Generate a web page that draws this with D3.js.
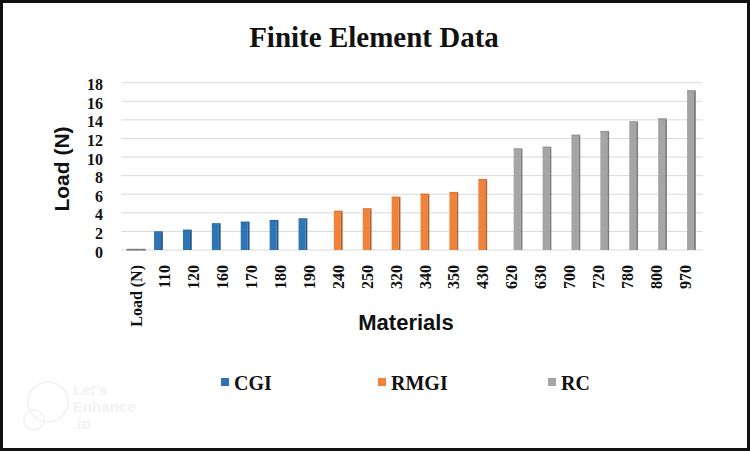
<!DOCTYPE html>
<html>
<head>
<meta charset="utf-8">
<script src="https://cdn.jsdelivr.net/npm/d3@7"></script>
<style>
  html, body { margin: 0; padding: 0; background: #ffffff; }
  svg { display: block; }
</style>
</head>
<body>
<script>
// ---- data ----
const categories = ["Load (N)", "110", "120", "160", "170", "180", "190",
  "240", "250", "320", "340", "350", "430",
  "620", "630", "700", "720", "780", "800", "970"];
const seriesNames = ["CGI", "RMGI", "RC"];
const cgiValues  = [0, 1.90, 2.08, 2.77, 2.94, 3.12, 3.30, null, null, null, null, null, null, null, null, null, null, null, null, null];
const rmgiValues = [0, null, null, null, null, null, null, 4.12, 4.38, 5.63, 5.95, 6.13, 7.53, null, null, null, null, null, null, null];
const rcValues   = [0, null, null, null, null, null, null, null, null, null, null, null, null, 10.83, 11.01, 12.30, 12.70, 13.74, 14.06, 17.08];
const yTicks = [0, 2, 4, 6, 8, 10, 12, 14, 16, 18];
const seriesColors = ["#2E75B6", "#F0823A", "#A5A5A5"];
const titleText = "Finite Element Data";
const xTitle = "Materials";
const yTitle = "Load (N)";

const W = 750, H = 451;
const svg = d3.select("body").append("svg").attr("width", W).attr("height", H);

svg.append("rect").attr("x", 1.5).attr("y", 1.5).attr("width", W - 3).attr("height", H - 3)
  .attr("fill", "#ffffff").attr("stroke", "#111").attr("stroke-width", 3);

// faint watermark
const wm = svg.append("g").attr("fill", "none").attr("stroke", "#f4f4f4").attr("stroke-width", 2);
wm.append("circle").attr("cx", 48).attr("cy", 402).attr("r", 20);
wm.append("circle").attr("cx", 34).attr("cy", 420).attr("r", 10);
const wmt = svg.append("g").attr("fill", "#f2f2f2").attr("font-family", "Liberation Sans, Arial, sans-serif")
  .attr("font-weight", "bold").attr("font-size", 15);
wmt.append("text").attr("x", 73).attr("y", 395).text("Let's");
wmt.append("text").attr("x", 73).attr("y", 412).text("Enhance");
wmt.append("text").attr("x", 73).attr("y", 429).text(".io");

// scales
const x = d3.scaleBand().domain(categories).range([121.5, 699.5]).padding(0);
const xs = d3.scaleBand().domain(seriesNames).range([x.bandwidth() / 2 - 9.6, x.bandwidth() / 2 + 9.6]);
const y = d3.scaleLinear().domain([0, 18]).range([250, 82.7]);

// gridlines
svg.append("g").selectAll("line").data(yTicks).join("line")
  .attr("x1", 121.5).attr("x2", 702.5)
  .attr("y1", d => y(d)).attr("y2", d => y(d))
  .attr("stroke", "#d9d9d9").attr("stroke-width", 1);

// y tick labels
svg.append("g").selectAll("text").data(yTicks).join("text")
  .attr("x", 103).attr("y", d => y(d) + 2).attr("dy", "0.35em")
  .attr("text-anchor", "end")
  .attr("font-family", "Liberation Serif, Times New Roman, serif")
  .attr("font-weight", "bold").attr("font-size", 16).attr("fill", "#111")
  .text(d => d);

// bars
const allSeries = [cgiValues, rmgiValues, rcValues];
const barW = 7, sideW = 1.8, topH = 1.6;
function shade(c, k) { return d3.color(c).darker(k).formatHex(); }
allSeries.forEach((vals, si) => {
  const name = seriesNames[si];
  const col = seriesColors[si];
  const g = svg.append("g");
  vals.forEach((v, i) => {
    if (v === null) return;
    const cx = x(categories[i]) + xs(name) + xs.bandwidth() / 2;
    const x0 = cx - (barW + sideW) / 2;
    const yt = y(v);
    const yb = y(0);
    if (v > 0) {
      g.append("rect").attr("x", x0).attr("y", yt).attr("width", barW).attr("height", yb - yt).attr("fill", col);
      g.append("rect").attr("x", x0 + barW).attr("y", yt).attr("width", sideW).attr("height", yb - yt).attr("fill", shade(col, 0.8));
      g.append("rect").attr("x", x0).attr("y", yt - topH + 0.5).attr("width", barW + sideW).attr("height", topH).attr("fill", shade(col, 0.25));
    } else {
      g.append("rect").attr("x", cx - 3).attr("y", yb - 1.2).attr("width", 6.4).attr("height", 1.8).attr("fill", "#7a7a7a");
    }
  });
});

// x tick labels
svg.append("g").selectAll("text").data(categories).join("text")
  .attr("transform", d => `translate(${x(d) + x.bandwidth() / 2},265) rotate(-90)`)
  .attr("dy", "0.35em")
  .attr("text-anchor", "end")
  .attr("font-family", "Liberation Serif, Times New Roman, serif")
  .attr("font-weight", "bold").attr("font-size", 16).attr("fill", "#111")
  .text(d => d);

// title
svg.append("text").attr("x", 374).attr("y", 47).attr("text-anchor", "middle")
  .attr("font-family", "Liberation Serif, Times New Roman, serif")
  .attr("font-weight", "bold").attr("font-size", 29).attr("fill", "#111")
  .text(titleText);

// axis titles
svg.append("text").attr("x", 406).attr("y", 330).attr("text-anchor", "middle")
  .attr("font-family", "Liberation Sans, Arial, sans-serif")
  .attr("font-weight", "bold").attr("font-size", 22).attr("fill", "#111")
  .text(xTitle);
svg.append("text").attr("transform", "translate(69,169) rotate(-90)").attr("text-anchor", "middle")
  .attr("font-family", "Liberation Sans, Arial, sans-serif")
  .attr("font-weight", "bold").attr("font-size", 21).attr("fill", "#111")
  .text(yTitle);

// legend
const legendX = [221, 378, 548];
const lg = svg.append("g");
seriesNames.forEach((n, i) => {
  lg.append("rect").attr("x", legendX[i]).attr("y", 378).attr("width", 8).attr("height", 8).attr("fill", seriesColors[i]);
  lg.append("text").attr("x", legendX[i] + 13).attr("y", 390)
    .attr("font-family", "Liberation Serif, Times New Roman, serif")
    .attr("font-weight", "bold").attr("font-size", 20).attr("fill", "#111")
    .text(n);
});
</script>
</body>
</html>
